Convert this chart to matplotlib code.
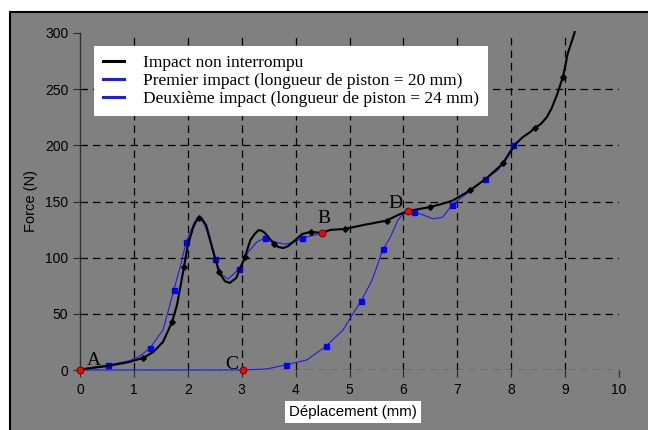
import matplotlib
matplotlib.use("Agg")
import matplotlib.pyplot as plt
from matplotlib.patches import Rectangle
from matplotlib.lines import Line2D

# --- data ---
# Impact non interrompu (black)
black_x = [0.0, 0.5, 0.9, 1.17, 1.36, 1.54, 1.71, 1.80, 1.87, 1.93, 2.0, 2.1, 2.16,
           2.21, 2.27, 2.34, 2.45, 2.58, 2.69, 2.78, 2.9, 3.06, 3.16, 3.24, 3.31,
           3.37, 3.43, 3.6, 3.68, 3.77, 3.85, 3.93, 4.12, 4.28, 4.49, 4.64, 4.92,
           5.25, 5.69, 5.9, 6.09, 6.49, 6.8, 6.92, 7.24, 7.55, 7.85, 8.01, 8.1,
           8.22, 8.33, 8.44, 8.55, 8.66, 8.75, 8.85, 8.96, 9.0, 9.05, 9.12, 9.18]
black_y = [0.5, 3.5, 7, 10.7, 16, 25, 43, 58, 76, 92, 111, 127, 133,
           135.5, 134, 129, 109.5, 87, 79, 77.5, 82, 100.6, 115.5, 121, 124.5,
           124, 122, 112, 109.5, 108.6, 110, 113, 121, 123, 122, 124.7, 125.6,
           129, 133, 138, 141.6, 145, 149, 151, 160, 171, 184, 196, 202,
           207.5, 211, 215.5, 219, 225, 233, 245, 261, 270, 282, 292, 301]
black_mx = [1.17, 1.71, 1.93, 2.21, 2.58, 3.06, 3.6, 4.28, 4.92, 5.69, 6.49, 7.24, 7.85, 8.44, 8.96]
black_my = [10.7, 43, 92, 135.5, 87, 100.6, 112, 123, 125.6, 133, 145, 160, 184, 215.5, 261]

# Premier impact (piston 20 mm)
p1_x = [0.0, 0.52, 0.9, 1.1, 1.3, 1.54, 1.74, 1.86, 1.97, 2.08, 2.13, 2.19, 2.25,
        2.3, 2.36, 2.5, 2.63, 2.75, 2.95, 3.12, 3.28, 3.43, 3.62, 3.8, 3.99,
        4.12, 4.3, 4.49]
p1_y = [0.5, 4.5, 8, 12, 19.6, 35.6, 71, 92, 114, 127, 132, 135.5, 134,
        130, 123, 99, 85, 81, 90, 105, 114, 117.5, 114, 112, 114,
        117.5, 119.5, 122]
p1_mx = [0.52, 1.3, 1.74, 1.97, 2.5, 2.95, 3.43, 4.12]
p1_my = [4.5, 19.6, 71, 114, 99, 90, 117.5, 117.5]

# Deuxième impact (piston 24 mm)
p2_x = [0.0, 3.03, 3.47, 3.82, 4.21, 4.56, 4.88, 5.07, 5.21, 5.42, 5.62, 5.75, 5.9,
        6.0, 6.09, 6.2, 6.37, 6.55, 6.73, 6.9, 7.2, 7.52, 7.76, 8.04, 8.1]
p2_y = [0.0, 0.0, 1, 4.5, 9, 21, 35.6, 50.7, 61, 80, 107.5, 117.5, 133.6,
        139, 141.6, 140.7, 138, 134.5, 136, 147, 158, 170, 178, 200, 203]
p2_mx = [3.82, 4.56, 5.21, 5.62, 6.2, 6.9, 7.52, 8.04]
p2_my = [4.5, 21, 61, 107.5, 140.7, 147, 170, 200]

# Points remarquables
pt_names = ["A", "B", "C", "D"]
pt_x = [0.0, 4.49, 3.03, 6.09]
pt_y = [0.0, 122, 0.0, 141.6]

series_labels = ["Impact non interrompu",
                 "Premier impact (longueur de piston = 20 mm)",
                 "Deuxième impact (longueur de piston = 24 mm)"]

x_ticks = list(range(0, 11))
y_ticks = [0, 50, 100, 150, 200, 250, 300]

grey = "#808080"
blue = "#1c1cf0"

fig = plt.figure(figsize=(6.48, 4.30), dpi=100, facecolor="white")

# grey panel with black frame, drawn in a background axes
bg = fig.add_axes([0, 0, 1, 1], zorder=-5)
bg.set_axis_off()
bg.add_patch(Rectangle((9.5 / 648, -0.02), 1.0, (430 - 11.5) / 430 + 0.02,
                       transform=bg.transAxes, facecolor=grey,
                       edgecolor="black", linewidth=1.5))

ax = fig.add_axes([80 / 648, 60 / 430, 539 / 648, 337 / 430])
ax.patch.set_alpha(0)
ax.set_xlim(0, 10)
ax.set_ylim(0, 300)
ax.set_xticks(x_ticks)
ax.set_yticks(y_ticks)

ax.grid(True, color="black", linestyle=(0, (6, 4)), linewidth=0.9)
ax.set_axisbelow(True)
ax.xaxis.get_gridlines()[0].set_visible(False)
ax.xaxis.get_gridlines()[-1].set_visible(False)
ax.yaxis.get_gridlines()[-1].set_visible(False)

for s in ["top", "right", "bottom"]:
    ax.spines[s].set_visible(False)
ax.spines["left"].set_color("#303030")
ax.spines["left"].set_linewidth(1.0)
ax.tick_params(axis="both", colors="#303030", length=5, width=0.9,
               labelcolor="black", labelsize=10)
ax.tick_params(axis="x", pad=4)
for lab in ax.get_xticklabels() + ax.get_yticklabels():
    lab.set_family("Liberation Sans")

lk = dict(solid_joinstyle="round", solid_capstyle="round", clip_on=False)
ax.plot(p2_x, p2_y, color=blue, lw=0.8, zorder=3, **lk)
ax.plot(p2_mx, p2_my, ls="none", marker="s", ms=3.6, color="#0000ff", zorder=4)
ax.plot(p1_x, p1_y, color=blue, lw=0.8, zorder=3, **lk)
ax.plot(p1_mx, p1_my, ls="none", marker="s", ms=3.6, color="#0000ff", zorder=4)
ax.plot(black_x, black_y, color="black", lw=1.5, zorder=5, **lk)
ax.plot(black_mx, black_my, ls="none", marker="D", ms=2.8, color="black", zorder=6)

ax.plot(pt_x, pt_y, ls="none", marker="o", ms=5, mfc="red", mec="#600000",
        mew=0.6, zorder=7, clip_on=False)
offsets = {"A": (5, 1, "left", "bottom"), "B": (-3, 4, "left", "bottom"),
           "C": (-4, -2, "right", "bottom"), "D": (-4, -1, "right", "bottom")}
for n, x, y in zip(pt_names, pt_x, pt_y):
    dx, dy, ha, va = offsets[n]
    ax.annotate(n, (x, y), xytext=(dx, dy), textcoords="offset points",
                ha=ha, va=va, fontsize=14, family="Liberation Serif", zorder=8)

handles = [Line2D([], [], color="black", lw=2.2),
           Line2D([], [], color=blue, lw=2.2),
           Line2D([], [], color=blue, lw=2.2)]
leg = fig.legend(handles, series_labels, loc="upper left",
                 bbox_to_anchor=(94 / 648, (430 - 46) / 430),
                 prop={"family": "Liberation Serif", "size": 12.5},
                 frameon=True, fancybox=False, framealpha=1, edgecolor="none",
                 facecolor="white", borderpad=0.5, labelspacing=0.12,
                 handlelength=1.2, handletextpad=1.15, borderaxespad=0)
leg.set_zorder(10)

fig.text(353 / 648, 1 - 412 / 430, "Déplacement (mm)", ha="center", va="center",
         fontsize=10.8, family="Liberation Sans",
         bbox=dict(facecolor="white", edgecolor="none", pad=3))
fig.text(31 / 648, 1 - 201 / 430, "Force (N)", ha="center", va="center",
         rotation=90, fontsize=10.5, family="Liberation Sans")

fig.savefig("out.png", dpi=100, facecolor=fig.get_facecolor())
